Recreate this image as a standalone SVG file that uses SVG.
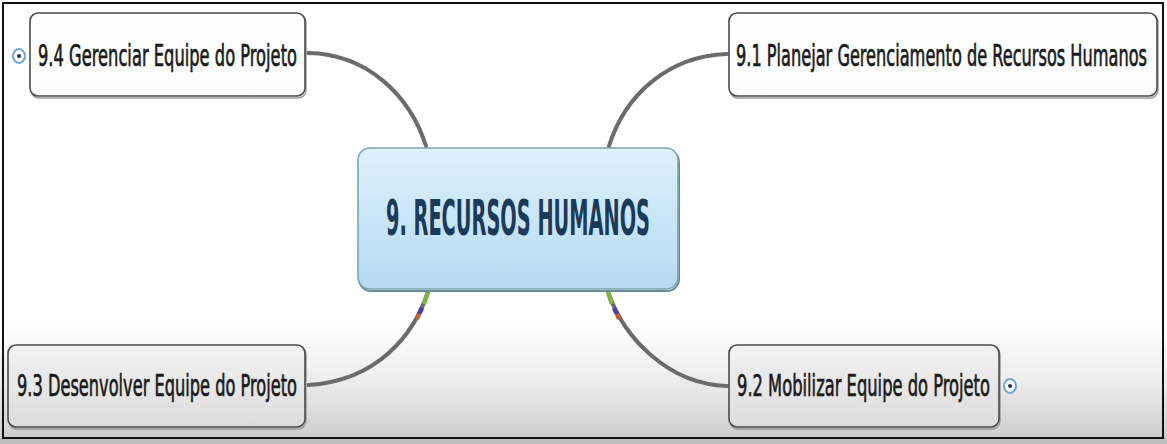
<svg xmlns="http://www.w3.org/2000/svg" width="1167" height="444" viewBox="0 0 1167 444">
<defs>
<linearGradient id="bg" x1="0" y1="0" x2="0" y2="1">
<stop offset="0" stop-color="#ffffff"/>
<stop offset="0.74" stop-color="#ffffff"/>
<stop offset="0.87" stop-color="#ececec"/>
<stop offset="1" stop-color="#cdcdcd"/>
</linearGradient>
<linearGradient id="blue" x1="0" y1="0" x2="0" y2="1">
<stop offset="0" stop-color="#def0fc"/>
<stop offset="1" stop-color="#b5daf3"/>
</linearGradient>
<linearGradient id="nodeTop" x1="0" y1="0" x2="0" y2="1">
<stop offset="0" stop-color="#ffffff"/>
<stop offset="1" stop-color="#fbfbfb"/>
</linearGradient>
<linearGradient id="nodeBot" x1="0" y1="0" x2="0" y2="1">
<stop offset="0" stop-color="#f2f2f2"/>
<stop offset="1" stop-color="#dcdcdc"/>
</linearGradient>
<g id="plus">
<ellipse rx="6" ry="7" fill="#ffffff" stroke="#6ea6d6" stroke-width="2"/>
<circle r="2" fill="#1c3558"/>
</g>
</defs>
<style>
.box{stroke:#4a4a4a;stroke-width:1.6}
.shadow{fill:none;stroke:#9a9a9a;stroke-width:1.5}
.lbl{font-family:"DejaVu Sans Condensed","Liberation Sans Narrow","Liberation Sans",sans-serif;font-stretch:condensed;font-weight:normal;font-size:31px;fill:#1a1a1a;stroke:#1a1a1a;stroke-width:0.7}
.main{font-family:"DejaVu Sans Condensed","Liberation Sans Narrow","Liberation Sans",sans-serif;font-stretch:condensed;font-weight:600;font-size:50px;fill:#1b3a5a}
.conn{fill:none;stroke:#6b6b6b;stroke-width:4;stroke-linecap:round}
</style>
<rect x="0" y="0" width="1167" height="444" fill="#bdbdbd"/>
<rect x="0" y="0" width="1167" height="438" fill="url(#bg)"/>
<rect x="3" y="3" width="1160" height="435" fill="none" stroke="#111" stroke-width="2"/>

<g id="connectors">
<path class="conn" d="M308,53 C368,54 410,96 426,146"/>
<path class="conn" d="M727,54 C668,56 625,95 609,146"/>
<path class="conn" d="M308,385 C378,381 414,334 428,292"/>
<path class="conn" d="M608,292 C624,338 668,384 727,386"/>
<path d="M428,292 L424,304" stroke="#7fb24a" stroke-width="4.5" fill="none"/>
<path d="M422,308 L419,314" stroke="#4a3ca8" stroke-width="4.5" fill="none"/>
<path d="M419,314 L417,319" stroke="#c0633a" stroke-width="4.5" fill="none"/>
<path d="M608,292 L612,304" stroke="#7fb24a" stroke-width="4.5" fill="none"/>
<path d="M614,308 L617,314" stroke="#4a3ca8" stroke-width="4.5" fill="none"/>
<path d="M617,314 L619,319" stroke="#c0633a" stroke-width="4.5" fill="none"/>
</g>

<g id="node-center">
<rect x="359" y="150" width="320" height="141" rx="12" fill="none" stroke="#6a8c96" stroke-width="2"/>
<rect x="358" y="148" width="320" height="141" rx="12" fill="url(#blue)" stroke="#7aa6b4" stroke-width="1.6"/>
<text class="main" x="386" y="235" textLength="264" lengthAdjust="spacingAndGlyphs">9. RECURSOS HUMANOS</text>
</g>

<g id="node-9-4">
<rect class="shadow" x="31" y="15" width="275" height="83" rx="8"/>
<rect class="box" x="30" y="13" width="275" height="83" rx="8" fill="url(#nodeTop)"/>
<text class="lbl" x="38" y="66" textLength="259" lengthAdjust="spacingAndGlyphs">9.4 Gerenciar Equipe do Projeto</text>
<use href="#plus" x="19" y="56"/>
</g>

<g id="node-9-1">
<rect class="shadow" x="730" y="15" width="428" height="83" rx="8"/>
<rect class="box" x="729" y="13" width="428" height="83" rx="8" fill="url(#nodeTop)"/>
<text class="lbl" x="736" y="66" textLength="411" lengthAdjust="spacingAndGlyphs">9.1 Planejar Gerenciamento de Recursos Humanos</text>
</g>

<g id="node-9-3">
<rect class="shadow" x="9" y="347" width="297" height="82" rx="8"/>
<rect class="box" x="8" y="345" width="297" height="82" rx="8" fill="url(#nodeBot)"/>
<text class="lbl" x="17" y="396" textLength="280" lengthAdjust="spacingAndGlyphs">9.3 Desenvolver Equipe do Projeto</text>
</g>

<g id="node-9-2">
<rect class="shadow" x="730" y="347" width="270" height="82" rx="8"/>
<rect class="box" x="729" y="345" width="270" height="82" rx="8" fill="url(#nodeBot)"/>
<text class="lbl" x="737" y="396" textLength="253" lengthAdjust="spacingAndGlyphs">9.2 Mobilizar Equipe do Projeto</text>
<use href="#plus" x="1010" y="386"/>
</g>
</svg>
